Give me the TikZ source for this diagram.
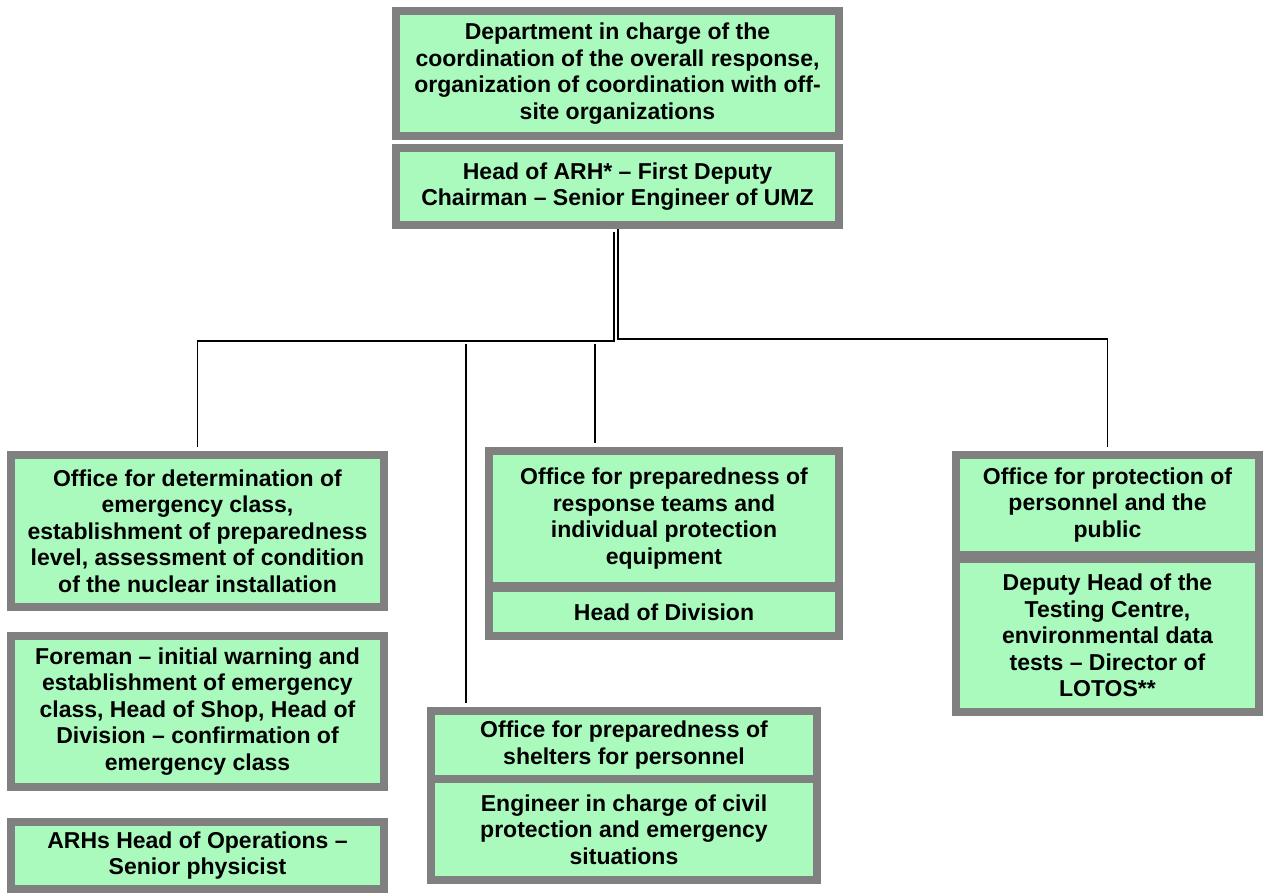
\documentclass[tikz,border=0pt]{standalone}
\usepackage{fontspec}
\setmainfont{Liberation Sans}
\definecolor{boxgreen}{RGB}{170,250,190}
\definecolor{boxgray}{RGB}{128,128,128}
\tikzset{
  box/.style={draw=boxgray, fill=boxgreen, line width=8pt, inner sep=0pt,
    align=center, font=\fontsize{23}{26.5}\selectfont\bfseries},
  conn/.style={draw=black, line width=1.8pt}
}
\begin{document}
\begin{tikzpicture}[x=1pt,y=-1pt]
\useasboundingbox[fill=white] (0,0) rectangle (1263,894);
% top boxes
\node[box, minimum width=443, minimum height=125] (t1) at (617.5,73.5)
  {Department in charge of the\\coordination of the overall response,\\organization of coordination with off-\\site organizations};
\node[box, minimum width=443, minimum height=77] (t2) at (617.5,186.5)
  {Head of ARH* -- First Deputy\\Chairman -- Senior Engineer of UMZ};
% left column
\node[box, minimum width=373, minimum height=152] (A) at (197.5,531)
  {Office for determination of\\emergency class,\\establishment of preparedness\\level, assessment of condition\\of the nuclear installation};
\node[box, minimum width=373, minimum height=151] (B) at (197.5,711.5)
  {Foreman -- initial warning and\\establishment of emergency\\class, Head of Shop, Head of\\Division -- confirmation of\\emergency class};
\node[box, minimum width=373, minimum height=67] (C) at (197.5,855.5)
  {ARHs Head of Operations --\\Senior physicist};
% middle upper
\node[box, minimum width=350, minimum height=135] (D) at (664,518.5)
  {Office for preparedness of\\response teams and\\individual protection\\equipment};
\node[box, minimum width=350, minimum height=48] (E) at (664,612)
  {Head of Division};
% middle lower
\node[box, minimum width=386, minimum height=68] (F) at (624,745)
  {Office for preparedness of\\shelters for personnel};
\node[box, minimum width=386, minimum height=101] (G) at (624,829.5)
  {Engineer in charge of civil\\protection and emergency\\situations};
% right
\node[box, minimum width=303, minimum height=100] (H) at (1107.5,505)
  {Office for protection of\\personnel and the\\public};
\node[box, minimum width=303, minimum height=153] (I) at (1107.5,635.5)
  {Deputy Head of the\\Testing Centre,\\environmental data\\tests -- Director of\\LOTOS**};
% connectors
\coordinate (busL) at (197.5,341);
\coordinate (busR) at (1107.5,339);
\coordinate (jF) at (466,344);
\coordinate (jD) at (595,344);
\draw[conn] ([xshift=-3.5pt,yshift=-2.5pt]t2.south) |- (busL) -- ([yshift=4pt]A.north);
\draw[conn] ([xshift=0.5pt]t2.south) |- (busR) -- ([yshift=4pt]H.north);
\draw[conn] (jF) -- ([yshift=4pt]F.north -| jF);
\draw[conn] (jD) -- ([yshift=4pt]D.north -| jD);
\end{tikzpicture}
\end{document}
